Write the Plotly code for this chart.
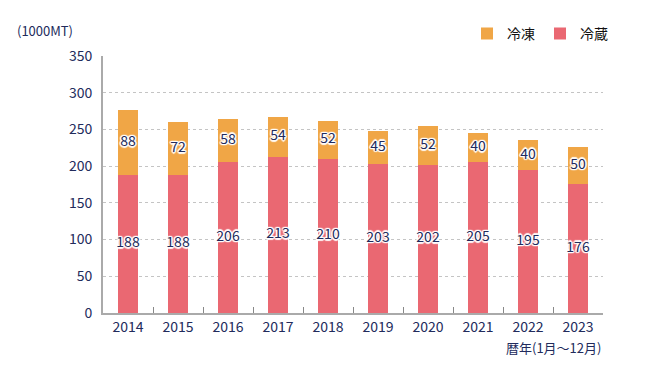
import plotly.graph_objects as go

years = ["2014", "2015", "2016", "2017", "2018", "2019", "2020", "2021", "2022", "2023"]
chilled = [188, 188, 206, 213, 210, 203, 202, 205, 195, 176]   # 冷蔵
frozen = [88, 72, 58, 54, 52, 45, 52, 40, 40, 50]              # 冷凍
y_ticks = [0, 50, 100, 150, 200, 250, 300, 350]

C_FROZEN = "#F0A646"
C_CHILLED = "#EA6872"
NAVY = "#222b5c"
FONT = "Noto Sans CJK JP"
HALO = ("1.5px 0px 1px #fff, -1.5px 0px 1px #fff, 0px 1.5px 1px #fff, 0px -1.5px 1px #fff, "
        "1px 1px 1px #fff, -1px -1px 1px #fff, 1px -1px 1px #fff, -1px 1px 1px #fff")

fig = go.Figure()
fig.add_trace(go.Bar(x=years, y=chilled, name="冷蔵", marker=dict(color=C_CHILLED, line=dict(width=0)),
                     width=0.4))
fig.add_trace(go.Bar(x=years, y=frozen, name="冷凍", marker=dict(color=C_FROZEN, line=dict(width=0)),
                     width=0.4))

chilled_mid = [c / 2 for c in chilled]
frozen_mid = [c + f / 2 for c, f in zip(chilled, frozen)]
fig.add_trace(go.Scatter(x=years, y=chilled_mid, mode="text", text=[str(v) for v in chilled],
                         textfont=dict(family=FONT, size=14, color=NAVY, shadow=HALO),
                         showlegend=False, hoverinfo="skip"))
fig.add_trace(go.Scatter(x=years, y=frozen_mid, mode="text", text=[str(v) for v in frozen],
                         textfont=dict(family=FONT, size=14, color=NAVY, shadow=HALO),
                         showlegend=False, hoverinfo="skip"))

fig.update_layout(
    width=650, height=380,
    barmode="stack",
    paper_bgcolor="white", plot_bgcolor="white",
    margin=dict(l=95, r=55, t=48, b=75, autoexpand=False),
    font=dict(family=FONT, size=14, color=NAVY),
    showlegend=True,
    legend=dict(orientation="h", x=1.02, xanchor="right", y=1.086, yanchor="middle",
                traceorder="reversed", font=dict(size=14, color="#111"),
                itemwidth=30, bgcolor="rgba(0,0,0,0)"),
    xaxis=dict(type="category", showgrid=False, showline=True, linecolor="#aaaaaa", linewidth=2,
               ticks="inside", tickson="boundaries", ticklen=6, tickcolor="#888888",
               tickfont=dict(size=14, color=NAVY), automargin=False),
    yaxis=dict(range=[0, 350], tickvals=y_ticks, showgrid=True, gridcolor="#c4c4c4",
               griddash="dot", gridwidth=1, showline=True, linecolor="#aaaaaa", linewidth=2,
               zeroline=False, ticks="", tickfont=dict(size=14, color=NAVY), ticklabelstandoff=6,
               automargin=False),
    annotations=[
        dict(text="(1000MT)", xref="paper", yref="paper", x=-0.176, y=1.1, xanchor="left",
             yanchor="middle", showarrow=False, font=dict(size=13, color=NAVY)),
        dict(text="暦年(1月～12月)", xref="paper", yref="paper", x=1.0, y=-0.136, xanchor="right",
             yanchor="middle", showarrow=False, font=dict(size=13, color=NAVY)),
    ],
)

fig.write_html("out.html")
